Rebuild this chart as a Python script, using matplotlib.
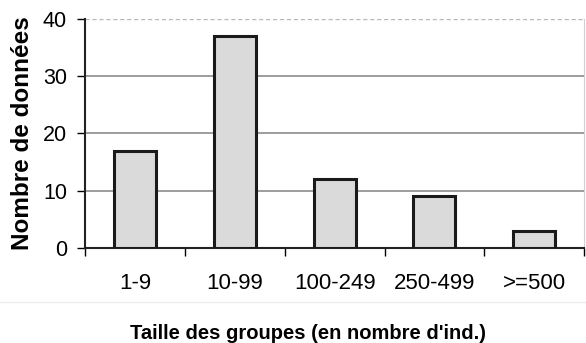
import matplotlib
matplotlib.use("Agg")
import matplotlib.pyplot as plt
import numpy as np

categories = ["1-9", "10-99", "100-249", "250-499", ">=500"]
counts = [17, 37, 12, 9, 3]
y_ticks = [0, 10, 20, 30, 40]

plt.rcParams["font.family"] = ["Liberation Sans", "DejaVu Sans"]

fig = plt.figure(figsize=(5.86, 3.43), dpi=100)
ax = fig.add_axes([0.145, 0.277, 0.852, 0.668])

x = np.arange(len(categories))
ax.bar(x, counts, width=0.42, color="#dadada", edgecolor="#1a1a1a",
       linewidth=2.2, zorder=3)

ax.set_xlim(-0.5, len(categories) - 0.5)
ax.set_ylim(0, 40)
ax.set_yticks(y_ticks)
ax.tick_params(axis="y", labelsize=15.5, length=6, width=1, pad=7, direction="out")

# category labels centred, ticks on the boundaries
ax.set_xticks(x)
ax.set_xticklabels(categories, fontsize=16)
ax.tick_params(axis="x", which="major", length=0, pad=18)
ax.set_xticks(np.arange(-0.5, len(categories) + 0.5), minor=True)
ax.tick_params(axis="x", which="minor", length=6, width=1, direction="out")

for v in y_ticks[1:-1]:
    ax.axhline(v, color="#8c8c8c", linewidth=1.2, zorder=1)
ax.axhline(40, color="#b8b8b8", linewidth=1.0, linestyle=(0, (3, 2)), zorder=1)

ax.spines["top"].set_visible(False)
ax.spines["right"].set_color("#d0d0d0")
ax.spines["left"].set_linewidth(1.5)
ax.spines["left"].set_color("#222222")
ax.spines["bottom"].set_linewidth(1.5)
ax.spines["bottom"].set_color("#222222")

ax.set_ylabel("Nombre de données", fontsize=17.5, fontweight="bold", labelpad=6)
ax.set_xlabel("Taille des groupes (en nombre d'ind.)", fontsize=14.5,
              fontweight="bold")
ax.xaxis.set_label_coords(0.447, -0.33)

# faint frame line below the tick labels
fig.add_artist(plt.Line2D([0.0, 1.0], [0.12, 0.12], transform=fig.transFigure,
                          color="#ececec", linewidth=1.0))

fig.savefig("out.png", dpi=100)
